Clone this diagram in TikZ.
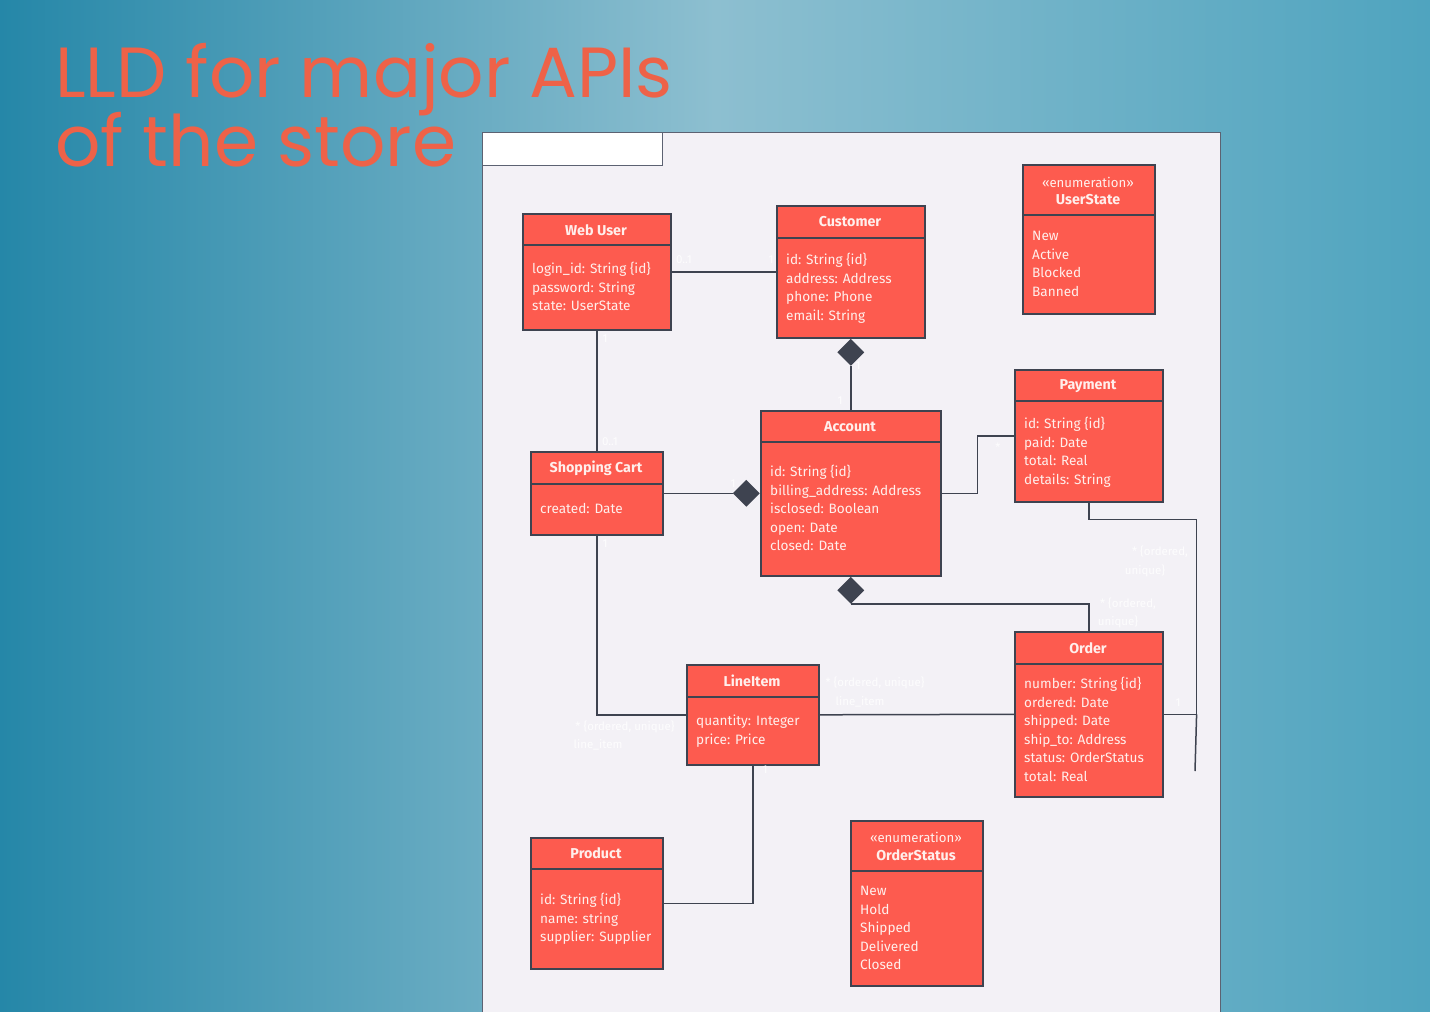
\documentclass[tikz,border=0pt]{standalone}
\usepackage{fontspec}
\setmainfont{Fira Sans}
\newfontfamily\titlefont{Poppins}
\usetikzlibrary{shapes.geometric,calc}
\definecolor{boxred}{HTML}{FD5B4F}
\definecolor{edgec}{HTML}{3E4350}
\definecolor{panelc}{HTML}{F3F1F6}
\definecolor{panelb}{HTML}{5C6272}
\definecolor{titlec}{HTML}{EE6248}
\definecolor{bgdark}{HTML}{2587A8}
\definecolor{bglight}{HTML}{8DBFD0}
\definecolor{bgmid}{HTML}{4FA4BF}
\definecolor{txtc}{HTML}{FFEFEC}
\newcommand\umlcls[6]{%
  \node[cls, minimum width=#4, minimum height=#5] (#1) at (#2,#3) {};
  \draw[clsline] ($(#1.north west)+(0,#6)$) -- ($(#1.north east)+(0,#6)$);}
\newcommand\attrs[4]{%
  \foreach \t [count=\i from 0] in {#3}
    \node[attr] (#4-\i) at (#1,{#2+1.5+18.6*\i}) {\t};}
\begin{document}
\begin{tikzpicture}[x=1pt,y=-1pt,
  cls/.style={draw=edgec, fill=boxred, line width=1.6pt, inner sep=0, anchor=north west},
  clsline/.style={draw=edgec, line width=1.6pt},
  hdr/.style={text=txtc, inner sep=0, font=\bfseries\fontsize{14.3}{16}\selectfont},
  stereo/.style={text=txtc, inner sep=0, font=\fontsize{13.2}{15}\selectfont},
  attr/.style={text=txtc, inner sep=0, anchor=west, text height=9pt, text depth=3pt,
    font=\fontsize{13.6}{16}\selectfont},
  conn/.style={draw=edgec, line width=1.5pt},
  dmd/.style={diamond, fill=edgec, minimum width=27, minimum height=27, inner sep=0},
  lbl/.style={text=white, inner sep=0, font=\fontsize{11.5}{13}\selectfont, opacity=0.85},
  ttl/.style={text=titlec, inner sep=0, anchor=base west, font=\titlefont\fontsize{71}{73}\selectfont}]
\useasboundingbox (0,0) rectangle (1430,1012);
% background
\shade[left color=bgdark, right color=bglight] (0,0) rectangle (715,1012);
\shade[left color=bglight, right color=bgmid] (715,0) rectangle (1430,1012);
% title
\node[ttl] (t1) at (55,97) {LLD for major APIs};
\node[ttl] (t2) at (55,166) {of the store};
% panel
\node[draw=panelb, fill=panelc, line width=1.3pt, inner sep=0, anchor=north west,
  minimum width=738, minimum height=890] (panel) at (482,132) {};
\node[draw=panelb, fill=white, line width=1.3pt, inner sep=0, anchor=north west,
  minimum width=180, minimum height=33] (tab) at (482,132) {};
% classes
\umlcls{wu}{522}{213}{148}{116}{32}
\node[hdr] (wu-t) at (596,230) {Web User};
\attrs{532}{269}{login\_id: String \{id\},password: String,state: UserState}{wua}

\umlcls{cu}{776}{205}{148}{132}{33}
\node[hdr] (cu-t) at (850,222) {Customer};
\attrs{786}{260}{id: String \{id\},address: Address,phone: Phone,email: String}{cua}

\umlcls{us}{1022}{164}{132}{149}{51}
\node[stereo] (us-s) at (1088,182) {«enumeration»};
\node[hdr] (us-t) at (1088,200) {UserState};
\attrs{1032}{236}{New,Active,Blocked,Banned}{usa}

\umlcls{pay}{1014}{369}{148}{132}{32}
\node[hdr] (pay-t) at (1088,386) {Payment};
\attrs{1024}{424}{id: String \{id\},paid: Date,total: Real,details: String}{paya}

\umlcls{acc}{760}{410}{180}{165}{32}
\node[hdr] (acc-t) at (850,427) {Account};
\attrs{770}{472}{id: String \{id\},billing\_address: Address,isclosed: Boolean,open: Date,closed: Date}{acca}

\umlcls{sc}{530}{451}{132}{83}{33}
\node[hdr] (sc-t) at (596,468) {Shopping Cart};
\attrs{540}{509}{created: Date}{sca}

\umlcls{ord}{1014}{631}{148}{165}{33}
\node[hdr] (ord-t) at (1088,648) {Order};
\attrs{1024}{684}{number: String \{id\},ordered: Date,shipped: Date,ship\_to: Address,status: OrderStatus,total: Real}{orda}

\umlcls{li}{686}{664}{132}{100}{33}
\node[hdr] (li-t) at (752,681) {LineItem};
\attrs{696}{721}{quantity: Integer,price: Price}{lia}

\umlcls{pr}{530}{837}{132}{131}{32}
\node[hdr] (pr-t) at (596,853) {Product};
\attrs{540}{900}{id: String \{id\},name: string,supplier: Supplier}{pra}

\umlcls{os}{850}{820}{132}{165}{51}
\node[stereo] (os-s) at (916,837) {«enumeration»};
\node[hdr] (os-t) at (916,855) {OrderStatus};
\attrs{860}{891}{New,Hold,Shipped,Delivered,Closed}{osa}

% diamonds
\node[dmd, anchor=north] (d1) at (cu.south) {};
\node[dmd, anchor=east] (d2) at (acc.west) {};
\node[dmd, anchor=north] (d3) at (acc.south) {};

% connectors
\draw[conn] (wu.east) -- (cu.west);
\draw[conn] (wu.south) -- (sc.north);
\draw[conn] (d1.south) -- (acc.north);
\draw[conn] (sc.east) -- (d2.west);
\draw[conn] (acc.east) -- ++(36,0) |- (pay.west);
\draw[conn] (d3.south) -| (ord.north);
\coordinate (pj) at ($(ord.east)+(33,0)$);
\coordinate (pend) at (1195,771);
\draw[conn] (pay.south) -- ++(0,17) -| (pj) -- (ord.east);
\draw[conn] (pj) -- (pend);
\draw[conn] (sc.south) |- (li.west);
\draw[conn] (li.east) -- (ord.west);
\draw[conn] (li.south) |- (pr.east);

% faint multiplicity labels
\node[lbl] (m1) at (684,260) {0..1};
\node[lbl] (m2) at (771,260) {1};
\node[lbl] (m3) at (605,339) {1};
\node[lbl] (m4) at (610,442) {0..1};
\node[lbl] (m5) at (858,366) {1};
\node[lbl] (m6) at (840,401) {1};
\node[lbl] (m7) at (733,484) {1};
\node[lbl] (m8) at (605,544) {1};
\node[lbl] (m9) at (998,447) {*};
\node[lbl] (m10) at (1160,552) {* \{ordered,};
\node[lbl] (m11) at (1145,571) {unique\}};
\node[lbl] (m12) at (1128,604) {* \{ordered,};
\node[lbl] (m13) at (1118,622) {unique\}};
\node[lbl] (m14) at (875,683) {* \{ordered, unique\}};
\node[lbl] (m15) at (860,702) {line\_item};
\node[lbl] (m16) at (625,727) {* \{ordered, unique\}};
\node[lbl] (m17) at (598,745) {line\_item};
\node[lbl] (m18) at (765,770) {1};
\node[lbl] (m19) at (1178,703) {1};
\end{tikzpicture}
\end{document}
